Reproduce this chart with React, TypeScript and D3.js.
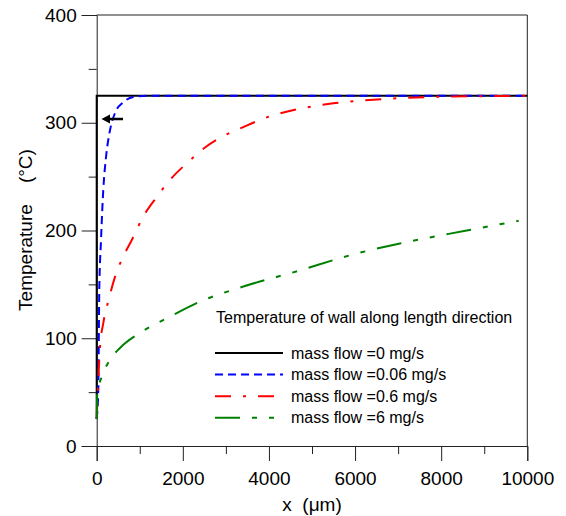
import React, { useRef, useEffect } from "react";
import * as d3 from "d3";

// wall temperature (°C) along the length x (µm)
const flow0: [number, number][] = [
  [0, 25],
  [0, 325],
  [10000, 325],
];
const flow006: [number, number][] = [
  [0, 25], [37, 52], [60, 145], [100, 191], [153, 238], [216, 268],
  [309, 293], [425, 309], [618, 319], [850, 324], [1200, 325], [10000, 325],
];
const flow06: [number, number][] = [
  [0, 25], [77, 92], [153, 114], [286, 137], [425, 157], [618, 176],
  [812, 191], [1082, 213], [1393, 231], [1702, 247], [2166, 265], [2515, 277],
  [2863, 286], [3405, 296], [3948, 305], [4721, 313], [5495, 318],
  [6656, 322], [7817, 324], [10000, 325],
];
const flow6: [number, number][] = [
  [0, 25], [14, 49], [116, 64], [309, 80], [541, 91], [1006, 105],
  [1702, 120], [2400, 134], [3405, 148], [4721, 163], [5882, 177],
  [7043, 188], [8593, 200], [9800, 209],
];

const seriesLabels = [
  "mass flow =0 mg/s",
  "mass flow =0.06 mg/s",
  "mass flow =0.6 mg/s",
  "mass flow =6 mg/s",
];
const legendTitle = "Temperature of wall along length direction";
const xMajorTicks = [0, 2000, 4000, 6000, 8000, 10000];
const xMinorTicks = [1000, 3000, 5000, 7000, 9000];
const yMajorTicks = [0, 100, 200, 300, 400];
const yMinorTicks = [50, 150, 250, 350];

const styles = [
  { color: "#000000", dash: "none" },
  { color: "#0000ff", dash: "8,5" },
  { color: "#ff0000", dash: "16,12,3,12" },
  { color: "#008000", dash: "25,12,5,12,5,12" },
];

const W = 566;
const H = 516;
const FONT = "'Liberation Sans', Arial, sans-serif";

const App = () => {
  const svgRef = useRef<SVGSVGElement>(null);

  useEffect(() => {
    const svg = d3.select(svgRef.current);
    svg.selectAll("*").remove();

    const x = d3.scaleLinear().domain([0, 10000]).range([96.7, 527.3]);
    const y = d3.scaleLinear().domain([0, 400]).range([446, 15]);

    // frame (top + right)
    svg
      .append("path")
      .attr("d", `M${x(0)},${y(400)}H${x(10000)}V${y(0)}`)
      .attr("fill", "none")
      .attr("stroke", "#222")
      .attr("stroke-width", 1);

    // x axis
    const gx = svg.append("g").attr("transform", `translate(0,${y(0)})`);
    gx.call(
      d3.axisBottom(x).tickValues(xMajorTicks).tickSize(15).tickPadding(11)
        .tickFormat(d3.format("d"))
    );
    gx.append("g").call(
      d3.axisBottom(x).tickValues(xMinorTicks).tickSize(8).tickFormat(() => "")
    ).select(".domain").remove();

    // y axis
    const gy = svg.append("g").attr("transform", `translate(${x(0)},0)`);
    gy.call(
      d3.axisLeft(y).tickValues(yMajorTicks).tickSize(15).tickPadding(5)
        .tickFormat(d3.format("d"))
    );
    gy.append("g").call(
      d3.axisLeft(y).tickValues(yMinorTicks).tickSize(8).tickFormat(() => "")
    ).select(".domain").remove();

    svg.selectAll(".domain").attr("stroke", "#222");
    svg.selectAll(".tick line").attr("stroke", "#222");
    svg
      .selectAll(".tick text")
      .attr("fill", "#000")
      .style("font-family", FONT)
      .style("font-size", "19px");

    // curves
    const line = d3
      .line<[number, number]>()
      .x((d) => x(d[0]))
      .y((d) => y(d[1]));
    const curves = [flow0, flow006, flow06, flow6];
    curves.forEach((data, i) => {
      svg
        .append("path")
        .datum(data)
        .attr("d", i === 0 ? line.curve(d3.curveLinear)(data) : line.curve(d3.curveMonotoneX)(data))
        .attr("fill", "none")
        .attr("stroke", styles[i].color)
        .attr("stroke-width", 2)
        .attr("stroke-dasharray", styles[i].dash);
    });

    // arrow pointing to the black curve
    const ay = 119;
    svg
      .append("line")
      .attr("x1", 123)
      .attr("x2", 106)
      .attr("y1", ay)
      .attr("y2", ay)
      .attr("stroke", "#000")
      .attr("stroke-width", 2.5);
    svg
      .append("path")
      .attr("d", `M101.5,${ay}L110,${ay - 4.5}L110,${ay + 4.5}Z`)
      .attr("fill", "#000");

    // legend
    const legend = svg.append("g");
    legend
      .append("text")
      .attr("x", 216)
      .attr("y", 322.5)
      .text(legendTitle)
      .style("font-family", FONT)
      .style("font-size", "16px");
    seriesLabels.forEach((label, i) => {
      const ry = 353 + i * 21.6;
      legend
        .append("line")
        .attr("x1", 215)
        .attr("x2", 283)
        .attr("y1", ry)
        .attr("y2", ry)
        .attr("stroke", styles[i].color)
        .attr("stroke-width", 2)
        .attr("stroke-dasharray", styles[i].dash);
      legend
        .append("text")
        .attr("x", 291)
        .attr("y", ry + 5.5)
        .text(label)
        .style("font-family", FONT)
        .style("font-size", "16px");
    });

    // axis titles
    svg
      .append("text")
      .attr("x", 312)
      .attr("y", 511)
      .attr("text-anchor", "middle")
      .style("font-family", FONT)
      .style("font-size", "19px")
      .style("white-space", "pre")
      .text("x  (\u03bcm)");
    svg
      .append("text")
      .attr("transform", `translate(32,230) rotate(-90)`)
      .attr("text-anchor", "middle")
      .style("font-family", FONT)
      .style("font-size", "19px")
      .style("white-space", "pre")
      .text("Temperature    (\u00b0C)");
  }, []);

  return (
    <div style={{ position: "absolute", left: 0, top: 0 }}>
      <svg ref={svgRef} width={W} height={H} style={{ display: "block", background: "#fff" }}></svg>
    </div>
  );
};

export default App;
